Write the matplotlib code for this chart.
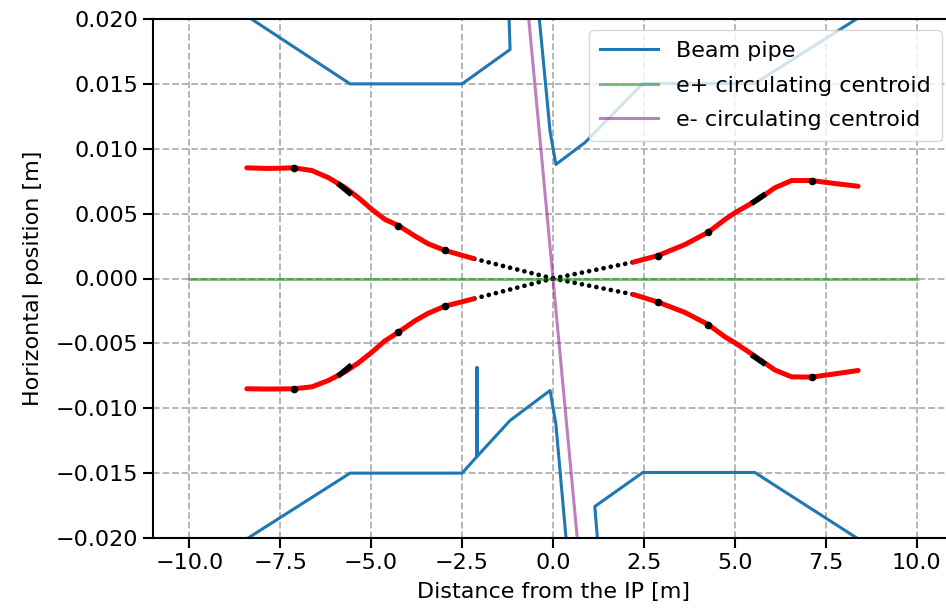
import numpy as np
import matplotlib
matplotlib.use("Agg")
import matplotlib.pyplot as plt

# beam pipe outline (pieces drawn separately)
pipe_ul_x = [-9.0, -5.58, -2.5, -1.18, -1.22]
pipe_ul_y = [0.0213, 0.0150, 0.0150, 0.01765, 0.0210]
pipe_ll_x = [-9.0, -5.58, -2.5, -2.09, -2.09, -2.09, -1.18, -0.08, 0.08, 0.39]
pipe_ll_y = [-0.0211, -0.0150, -0.0150, -0.01372, -0.00686, -0.01372, -0.01094, -0.00863, -0.01125, -0.0210]
pipe_ur_x = [-0.41, -0.08, 0.08, 0.88, 2.47, 5.55, 9.0]
pipe_ur_y = [0.0210, 0.01133, 0.00879, 0.01048, 0.01503, 0.01503, 0.02116]
pipe_lr_x = [1.25, 1.15, 2.47, 5.55, 9.0]
pipe_lr_y = [-0.0210, -0.01757, -0.01495, -0.01495, -0.02116]

# circulating centroids
eplus_x = [-10.0, 10.0]
eplus_y = [0.0, 0.0]
eminus_x = [-10.0, 10.0]
eminus_y = [0.30, -0.30]

# particle trajectories (red), outer part
left_x = [-8.42, -7.82, -7.13, -6.63, -6.17, -5.71, -5.35, -4.98, -4.62, -4.25, -3.79, -3.43, -2.97, -2.19]
ul_y = [0.00853, 0.00848, 0.00853, 0.00832, 0.00776, 0.00699, 0.00622, 0.00532, 0.00455, 0.00408, 0.00326, 0.00267, 0.00216, 0.00154]
ll_y = [-0.00850, -0.00852, -0.00850, -0.00835, -0.00785, -0.00718, -0.00650, -0.00568, -0.00480, -0.00414, -0.00325, -0.00268, -0.00213, -0.00157]
right_x = [2.21, 2.89, 3.63, 4.27, 4.73, 5.0, 5.64, 6.10, 6.56, 7.11, 7.75, 8.39]
ur_y = [0.00126, 0.00177, 0.00262, 0.00357, 0.00455, 0.00506, 0.00609, 0.00699, 0.00755, 0.00755, 0.00732, 0.00711]
lr_y = [-0.00123, -0.00182, -0.00262, -0.00355, -0.00450, -0.00495, -0.00615, -0.00705, -0.00758, -0.00760, -0.00735, -0.00709]

# inner part (black dots) from IP to start of red
inner_x = [[0.0, -2.19], [0.0, -2.19], [0.0, 2.21], [0.0, 2.21]]
inner_y = [[0.0, 0.00154], [0.0, -0.00157], [0.0, 0.00126], [0.0, -0.00123]]

# black marks on the red tracks
mark_x = [-7.13, -4.25, -2.97, -7.13, -4.25, -2.97, 2.89, 4.27, 7.11, 2.89, 4.27, 7.11]
mark_y = [0.00853, 0.00408, 0.00216, -0.00850, -0.00414, -0.00213,
          0.00177, 0.00357, 0.00755, -0.00182, -0.00355, -0.00760]
seg_x = [[-5.86, -5.60], [-5.86, -5.60], [5.52, 5.78], [5.52, 5.78]]
seg_y = [[0.0072, 0.0066], [-0.0074, -0.0068], [0.0059, 0.0064], [-0.0060, -0.0065]]

plt.rcParams['font.size'] = 16
plt.rcParams['axes.linewidth'] = 1.5

fig = plt.figure(figsize=(9.46, 6.10), dpi=100)
ax = fig.add_axes([153 / 946, 1 - 538 / 610, 800 / 946, 519 / 610])

ax.plot(pipe_ul_x, pipe_ul_y, color='C0', lw=2.2, label='Beam pipe')
ax.plot(pipe_ll_x, pipe_ll_y, color='C0', lw=2.2)
ax.plot(pipe_ur_x, pipe_ur_y, color='C0', lw=2.2)
ax.plot(pipe_lr_x, pipe_lr_y, color='C0', lw=2.2)

for xs, ys in zip(inner_x, inner_y):
    ax.plot(xs, ys, color='black', lw=3.4, ls=(0, (0.01, 1.55)), dash_capstyle='round')

for xs, ys in [(left_x, ul_y), (left_x, ll_y), (right_x, ur_y), (right_x, lr_y)]:
    ax.plot(xs, ys, color='red', lw=3.6, solid_capstyle='round', solid_joinstyle='round')

ax.plot(mark_x, mark_y, 'o', color='black', ms=4.5, ls='none')
for xs, ys in zip(seg_x, seg_y):
    ax.plot(xs, ys, color='black', lw=4.0)

ax.plot(eplus_x, eplus_y, color='green', alpha=0.5, lw=2.2, label='e+ circulating centroid')
ax.plot(eminus_x, eminus_y, color='purple', alpha=0.5, lw=2.2, label='e- circulating centroid')

ax.set_xlim(-11, 11)
ax.set_ylim(-0.02, 0.02)
ax.set_xticks([-10, -7.5, -5, -2.5, 0, 2.5, 5, 7.5, 10])
ax.set_yticks([-0.02, -0.015, -0.01, -0.005, 0, 0.005, 0.01, 0.015, 0.02])
ax.tick_params(length=7, width=1.5)
ax.grid(ls='--', lw=1.3, color='#b0b0b0')
ax.set_xlabel('Distance from the IP [m]', labelpad=7)
ax.set_ylabel('Horizontal position [m]', labelpad=9)
ax.legend(loc='upper right', handlelength=2.6, labelspacing=0.65, borderpad=0.5)

fig.savefig('out.png', dpi=100)
